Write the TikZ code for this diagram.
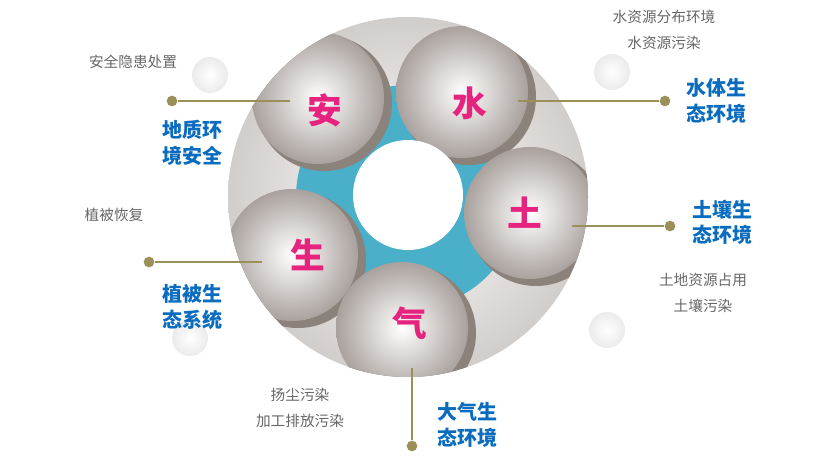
\documentclass[tikz,border=0pt]{standalone}
\usepackage{fontspec}
\newfontfamily\cjk{Noto Sans CJK SC}
\usetikzlibrary{positioning}
\definecolor{teal}{HTML}{4AAFC8}
\definecolor{olive}{HTML}{9B9158}
\definecolor{titleblue}{HTML}{0A6CBF}
\definecolor{pink}{HTML}{E6237E}
\definecolor{warm}{HTML}{8C827C}
\tikzset{
  petal/.style={inner color=white, outer color=warm!75, draw=none},
  glyph/.style={text=pink, font=\cjk\bfseries\fontsize{26}{26}\selectfont},
  title/.style={text=titleblue, font=\cjk\bfseries\fontsize{15}{19}\selectfont, align=left},
  note/.style={text=black!60, font=\cjk\fontsize{11}{19}\selectfont, align=center},
  dot/.style={circle, fill=olive, inner sep=0pt, minimum size=8pt},
  lead/.style={olive, line width=0.8pt},
  drop/.style={inner color=white, outer color=black!8, draw=none}
}
\begin{document}
\begin{tikzpicture}[x=0.75pt, y=-0.75pt]
\useasboundingbox (0,0) rectangle (817,464);
% ring
\shade[inner color=white, outer color=warm!40] (408,197) circle (180);
\fill[teal] (408,197) circle (112);
% petals
\begin{scope}
\clip (408,197) circle (180);
\foreach \x/\y in {318/98, 462/92, 530/213, 402/328, 292/255} {
  \fill[warm] (\x+6,\y+5) circle (68);
}
\foreach \x/\y in {318/98, 462/92, 530/213, 402/328, 292/255} {
  \shade[petal] (\x,\y) circle (66);
}
\end{scope}
\fill[white] (408,195) circle (55);
% decorations
\foreach \x/\y in {210/75, 612/72, 607/330, 190/338} {
  \shade[drop] (\x,\y) circle (18);
}
\node[glyph] (an) at (325,110) {安};
\node[glyph] (shui) at (470,103) {水};
\node[glyph] (tu) at (525,213) {土};
\node[glyph] (qi) at (410,323) {气};
\node[glyph] (sheng) at (308,255) {生};
% leaders
\node[dot] (d1) at (172,101) {};
\coordinate (e1) at (290,101);
\draw[lead] (d1) -- (e1);
\node[dot] (d2) at (665,101) {};
\coordinate (e2) at (518,101);
\draw[lead] (d2) -- (e2);
\node[dot] (d3) at (670,226) {};
\coordinate (e3) at (572,226);
\draw[lead] (d3) -- (e3);
\node[dot] (d4) at (412,446) {};
\coordinate (e4) at (412,368);
\draw[lead] (d4) -- (e4);
\node[dot] (d5) at (149,262) {};
\coordinate (e5) at (262,262);
\draw[lead] (d5) -- (e5);
% titles
\node[title] (t1) at (192,143) {地质环\\境安全};
\node[title] (t2) at (716,101) {水体生\\态环境};
\node[title] (t3) at (722,222) {土壤生\\态环境};
\node[title] (t4) at (467,425) {大气生\\态环境};
\node[title] (t5) at (192,307) {植被生\\态系统};
% notes
\node[note] (n1) at (133,62) {安全隐患处置};
\node[note] (n2) at (664,30) {水资源分布环境\\水资源污染};
\node[note] (n3) at (703,293) {土地资源占用\\土壤污染};
\node[note] (n4) at (300,408) {扬尘污染\\加工排放污染};
\node[note] (n5) at (114,215) {植被恢复};
\end{tikzpicture}
\end{document}
